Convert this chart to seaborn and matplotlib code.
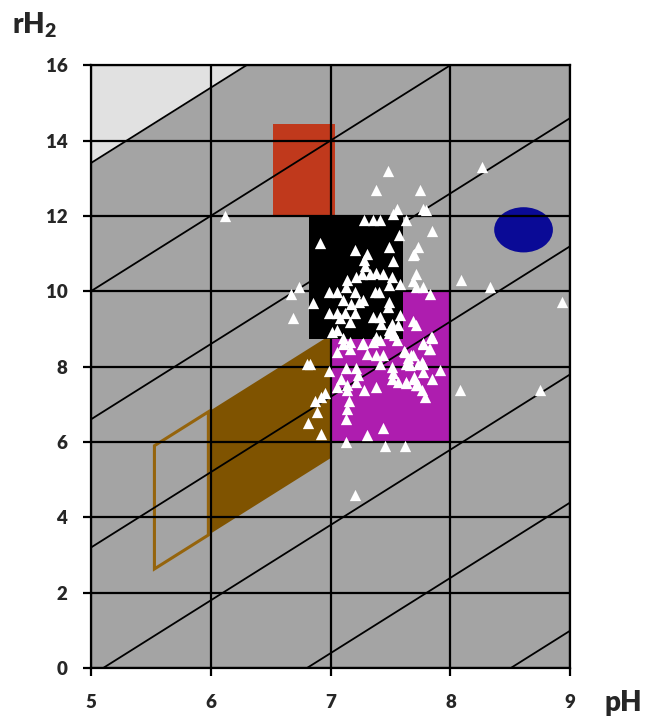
import numpy as np
import pandas as pd
import seaborn as sns
import matplotlib.pyplot as plt
from matplotlib.patches import Rectangle, Ellipse, Polygon

# Eh isolines (mV), rH2 = 2 pH + Eh / 29.4
EH_LEVELS = [-500, -400, -300, -200, -100, 0, 100]
EH_FACTOR = 29.4

# zones (pH range, rH2 range)
RED_PH = [6.52, 7.04]
RED_RH = [12.0, 14.45]
BLACK_PH = [6.82, 7.6]
BLACK_RH = [8.73, 12.0]
MAGENTA_PH = [7.0, 8.0]
MAGENTA_RH = [6.0, 10.0]
BLUE_CENTER = [8.61, 11.63]
BLUE_SIZE = [0.49, 1.2]
# brown band between rH2 = 2 pH + c, c low/high
BAND_C = [-8.43, -5.16]
BAND_FILL_PH = [6.0, 7.0]
BAND_OPEN_PH = [5.53, 5.98]

ph = [6.12, 7.48, 7.38, 7.75, 8.26, 7.55, 7.52, 7.77, 7.8, 7.63, 7.28, 7.35, 7.41,
      7.85, 7.57, 6.91, 7.73, 7.69, 7.49, 7.2, 7.3, 7.28, 7.52, 7.29, 7.26, 7.33,
      7.38, 7.44, 7.21, 7.51, 7.71, 7.14, 7.69, 8.09, 7.13, 7.49, 7.58, 7.71, 7.77,
      6.74, 6.67, 7.83, 6.99, 7.05, 7.2, 7.37, 7.4, 7.1, 7.27, 6.85, 7.49, 7.17,
      7.24, 7.48, 6.99, 7.05, 7.12, 7.2, 7.35, 7.41, 7.58, 7.08, 7.16, 7.42, 7.51,
      7.56, 6.69, 7.69, 7.71, 7.01, 7.05, 7.49, 7.52, 7.53, 7.1, 7.16, 7.27, 7.35,
      7.41, 7.77, 7.85, 8.33, 8.93, 7.7, 7.84, 7.82, 7.61, 7.67, 7.76, 7.63, 7.7,
      7.71, 7.63, 8.75,
      7.2, 7.13, 7.45, 7.62, 7.3, 7.44, 7.13, 7.14, 7.15, 7.38, 7.28, 7.14, 7.05,
      7.14, 7.09, 7.21, 7.23, 6.99, 7.13, 7.21, 7.05, 7.16, 7.1, 7.26, 7.3, 7.38,
      7.44, 7.41, 7.51, 7.52, 7.51, 7.56, 7.63, 7.7, 7.73, 7.76, 7.79, 7.62, 7.65,
      7.69, 7.73, 7.77, 7.66, 7.77, 7.85, 7.91, 8.08, 7.77, 7.83, 7.85, 7.55, 7.38,
      7.49, 6.8, 6.83, 6.95, 6.92, 6.87, 6.89, 6.81, 6.92]
rh2 = [12.0, 13.19, 12.68, 12.68, 13.3, 12.17, 12.06, 12.17, 12.15, 11.9, 11.9, 11.9, 11.9,
       11.59, 11.49, 11.29, 11.18, 10.96, 11.18, 11.1, 10.98, 10.82, 10.8, 10.66, 10.45, 10.45,
       10.49, 10.47, 10.38, 10.38, 10.47, 10.3, 10.28, 10.29, 10.1, 10.16, 10.19, 10.12, 10.12,
       10.1, 9.92, 9.92, 9.98, 9.98, 9.98, 9.98, 9.98, 9.78, 9.78, 9.69, 9.72, 9.67,
       9.72, 9.59, 9.41, 9.41, 9.43, 9.41, 9.32, 9.32, 9.36, 9.28, 9.19, 9.14, 9.14,
       9.1, 9.28, 9.22, 9.1, 8.93, 8.97, 8.97, 8.93, 8.83, 8.75, 8.66, 8.63, 8.66,
       8.7, 8.63, 8.75, 10.1, 9.72, 11.0, 8.79, 8.48, 8.42, 8.3, 8.13, 8.08, 7.73,
       7.51, 7.57, 7.39,
       4.59, 6.0, 5.89, 5.89, 6.18, 6.38, 6.6, 6.87, 7.08, 7.46, 7.39, 7.39, 7.46,
       7.5, 7.68, 7.6, 7.79, 7.88, 7.97, 7.97, 8.39, 8.47, 8.61, 8.61, 8.34, 8.3,
       8.3, 8.08, 7.99, 7.82, 7.68, 7.6, 7.6, 7.68, 7.5, 7.37, 7.2, 8.39, 8.22,
       8.3, 8.08, 8.08, 8.04, 7.86, 7.68, 7.9, 7.39, 8.61, 8.48, 8.79, 8.7, 8.79,
       8.88, 8.08, 8.08, 7.29, 7.2, 7.08, 6.8, 6.51, 6.2]

df = pd.DataFrame({"pH": ph, "rH2": rh2})

sns.set_style("white")
plt.rcParams["font.family"] = ["Lato", "DejaVu Sans"]
plt.rcParams["mathtext.default"] = "regular"

fig = plt.figure(figsize=(6.54, 7.16), dpi=100)
ax = fig.add_axes([0.139, 0.067, 0.733, 0.842])
ax.set_facecolor("#a4a4a4")

xs = np.array([5.0, 9.0])

# light zone above the highest isoline
ax.fill_between(xs, 2 * xs + EH_LEVELS[-1] / EH_FACTOR, 17, color="#e1e1e1", zorder=0.5, lw=0)

# zones
band_fill = [(BAND_FILL_PH[0], 2 * BAND_FILL_PH[0] + BAND_C[0]),
             (BAND_FILL_PH[1], 2 * BAND_FILL_PH[1] + BAND_C[0]),
             (BAND_FILL_PH[1], 2 * BAND_FILL_PH[1] + BAND_C[1]),
             (BAND_FILL_PH[0], 2 * BAND_FILL_PH[0] + BAND_C[1])]
ax.add_patch(Polygon(band_fill, closed=True, color="#7f5300", lw=0, zorder=1))
band_open = [(BAND_OPEN_PH[0], 2 * BAND_OPEN_PH[0] + BAND_C[0]),
             (BAND_OPEN_PH[1], 2 * BAND_OPEN_PH[1] + BAND_C[0]),
             (BAND_OPEN_PH[1], 2 * BAND_OPEN_PH[1] + BAND_C[1]),
             (BAND_OPEN_PH[0], 2 * BAND_OPEN_PH[0] + BAND_C[1])]
ax.add_patch(Polygon(band_open, closed=True, fill=False, edgecolor="#95640c", lw=2.2, zorder=1))

ax.add_patch(Rectangle((RED_PH[0], RED_RH[0]), RED_PH[1] - RED_PH[0], RED_RH[1] - RED_RH[0],
                       color="#c0391c", lw=0, zorder=1))
ax.add_patch(Rectangle((MAGENTA_PH[0], MAGENTA_RH[0]), MAGENTA_PH[1] - MAGENTA_PH[0],
                       MAGENTA_RH[1] - MAGENTA_RH[0], color="#ae1daf", lw=0, zorder=1))
ax.add_patch(Rectangle((BLACK_PH[0], BLACK_RH[0]), BLACK_PH[1] - BLACK_PH[0],
                       BLACK_RH[1] - BLACK_RH[0], color="black", lw=0, zorder=1.1))
ax.add_patch(Ellipse(BLUE_CENTER, BLUE_SIZE[0], BLUE_SIZE[1], color="#0a0a96", lw=0, zorder=1.1))

# grid
for x in range(5, 10):
    ax.axvline(x, color="black", lw=1.6, zorder=2)
for y in range(0, 17, 2):
    ax.axhline(y, color="black", lw=1.6, zorder=2)

# Eh isolines
for eh in EH_LEVELS:
    ax.plot(xs, 2 * xs + eh / EH_FACTOR, color="black", lw=1.3, zorder=2)

sns.scatterplot(data=df, x="pH", y="rH2", marker="^", color="white", s=66,
                linewidth=0, ax=ax, zorder=4)

ax.set_xlim(5, 9)
ax.set_ylim(0, 16)
ax.set_xticks(range(5, 10))
ax.set_yticks(range(0, 17, 2))
ax.set_xlabel("")
ax.set_ylabel("")
ax.tick_params(axis="both", direction="out", length=6, width=1.6, color="black",
               labelsize=13.5, bottom=True, left=True)
ax.tick_params(axis="y", pad=11)
ax.tick_params(axis="x", pad=13)
for lab in ax.get_xticklabels() + ax.get_yticklabels():
    lab.set_fontweight("heavy")
for sp in ax.spines.values():
    sp.set_color("black")
    sp.set_linewidth(1.6)

fig.text(0.018, 0.965, "rH$_2$", fontsize=20, fontweight="heavy", ha="left", va="center")
fig.text(0.925, 0.018, "pH", fontsize=20, fontweight="heavy", ha="left", va="center")

fig.savefig("out.png", dpi=100)
